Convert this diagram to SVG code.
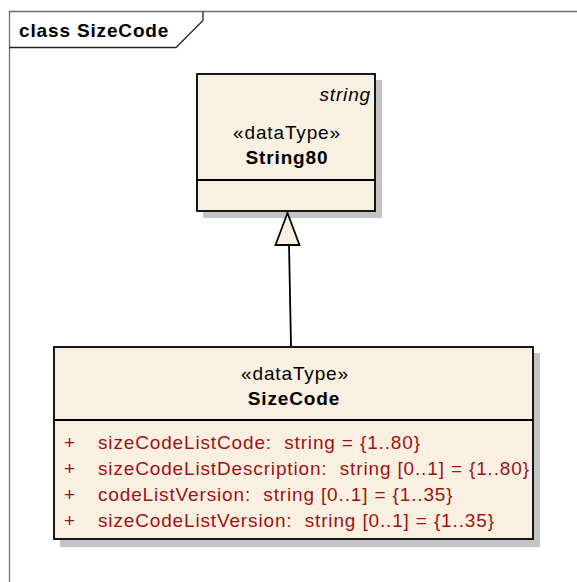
<svg xmlns="http://www.w3.org/2000/svg" width="577" height="582" viewBox="0 0 577 582">
<style>
text{font-family:"Liberation Sans",Arial,sans-serif;font-size:19px;letter-spacing:0.85px;fill:#000}
.b{font-weight:bold}
.c{text-anchor:middle}
.i{font-style:italic;text-anchor:end}
.a{fill:#9E1212}
.box{fill:#FAF0E2;stroke:#000;stroke-width:1.8}
.sh{fill:#C4C4C4}
.ln{stroke:#000;stroke-width:1.8}
</style>
<rect width="577" height="582" fill="#fff"/>
<g id="frame">
<path d="M9.5 582V11.5H577" fill="none" stroke="#6E6E6E" stroke-width="1.3"/>
<path d="M9.5 47.5H176L203 20.5V11.5" fill="none" stroke="#222" stroke-width="1.3"/>
<text class="b" x="19" y="37">class SizeCode</text>
</g>
<g id="String80">
<rect class="sh" x="203" y="80" width="179" height="138"/>
<rect class="box" x="197" y="74" width="178" height="137"/>
<line class="ln" x1="197" y1="180" x2="375" y2="180"/>
<text class="i" x="371" y="101">string</text>
<text class="c" x="287" y="139">«dataType»</text>
<text class="c b" x="287" y="164">String80</text>
</g>
<g id="SizeCode">
<rect class="sh" x="60" y="353" width="480" height="194"/>
<rect class="box" x="54" y="347" width="479" height="192"/>
<line class="ln" x1="54" y1="420" x2="533" y2="420"/>
<text class="c" x="295" y="380">«dataType»</text>
<text class="c b" x="294" y="405">SizeCode</text>
<text class="a" x="64" y="449">+</text>
<text class="a" x="98" y="449" xml:space="preserve">sizeCodeListCode:  string = {1..80}</text>
<text class="a" x="64" y="475">+</text>
<text class="a" x="98" y="475" xml:space="preserve">sizeCodeListDescription:  string [0..1] = {1..80}</text>
<text class="a" x="64" y="501">+</text>
<text class="a" x="98" y="501" xml:space="preserve">codeListVersion:  string [0..1] = {1..35}</text>
<text class="a" x="64" y="527">+</text>
<text class="a" x="98" y="527" xml:space="preserve">sizeCodeListVersion:  string [0..1] = {1..35}</text>
</g>
<g id="connectors">
<line class="ln" x1="291" y1="346" x2="289" y2="245"/>
<polygon points="287.5,213 275.5,245 299.5,245" fill="#FAF0E2" stroke="#000" stroke-width="1.8"/>
</g>
</svg>
